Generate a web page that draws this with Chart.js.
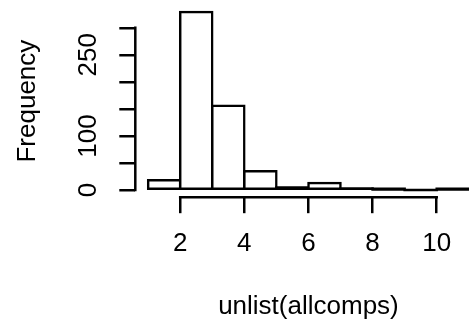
<!DOCTYPE html>
<html><head><meta charset="utf-8">
<script src="https://cdn.jsdelivr.net/npm/chart.js@4.4.1/dist/chart.umd.min.js"></script>
<style>html,body{margin:0;padding:0;background:#fff;overflow:hidden;width:469px;height:325px}canvas{display:block}</style>
</head><body>
<canvas id="c" width="482" height="325"></canvas>
<script>
// ---- data ----
const binEdges = [1, 2, 3, 4, 5, 6, 7, 8, 9, 10, 11];
const counts = [18, 329, 156, 35, 5, 13, 3, 1, 0, 1];
const xTickValues = [2, 4, 6, 8, 10];
const xTickLabels = ['2', '4', '6', '8', '10'];
const yTickValues = [0, 50, 100, 150, 200, 250, 300];
const yTickLabels = ['0', '', '100', '', '', '250', ''];
const xTitle = 'unlist(allcomps)';
const yTitle = 'Frequency';

// ---- style ----
const LW = 2.5;
const FONT = "'Liberation Sans', Arial, Helvetica, sans-serif";
const FS = 26;
const CW = 482, H = 325; // canvas runs past the 469px window, as the R plot region does
const PLOT_LEFT = 135.3, PLOT_RIGHT = 481.6, PLOT_TOP = 5.0, PLOT_BOTTOM = 197.2;

const points = counts.map((c, i) => ({ x: (binEdges[i] + binEdges[i + 1]) / 2, y: c }));
const xRange = binEdges[binEdges.length - 1] - binEdges[0];
const yMaxData = Math.max(...counts);

function isThin(ctx) {
  if (!ctx || ctx.type !== 'data' || !ctx.parsed) return false;
  const ys = ctx.chart.scales.y;
  if (!ys) return false;
  return Math.abs(ys.getPixelForValue(0) - ys.getPixelForValue(ctx.parsed.y)) <= 2 * LW;
}

const rAxes = {
  id: 'rAxes',
  afterDraw(chart) {
    const { ctx, chartArea, scales: { x, y } } = chart;
    ctx.save();
    ctx.strokeStyle = '#000';
    ctx.lineWidth = LW;
    ctx.lineCap = 'square';
    ctx.beginPath();
    ctx.moveTo(chartArea.left, y.getPixelForValue(yTickValues[0]));
    ctx.lineTo(chartArea.left, y.getPixelForValue(yTickValues[yTickValues.length - 1]));
    ctx.moveTo(x.getPixelForValue(xTickValues[0]), chartArea.bottom);
    ctx.lineTo(x.getPixelForValue(xTickValues[xTickValues.length - 1]), chartArea.bottom);
    ctx.stroke();
    ctx.restore();
  }
};

new Chart(document.getElementById('c'), {
  type: 'bar',
  data: {
    datasets: [{
      data: points,
      borderColor: '#000',
      borderWidth: c => isThin(c) ? 0 : LW,
      backgroundColor: c => isThin(c) ? '#000' : '#fff',
      borderSkipped: false,
      inflateAmount: LW / 2,
      barPercentage: 1,
      categoryPercentage: 1
    }]
  },
  options: {
    responsive: false,
    animation: false,
    devicePixelRatio: 1,
    events: [],
    layout: { padding: { left: 0, top: PLOT_TOP, right: CW - PLOT_RIGHT, bottom: 0 } },
    plugins: { legend: { display: false }, tooltip: { enabled: false } },
    scales: {
      x: {
        type: 'linear',
        offset: false,
        min: binEdges[0] - 0.04 * xRange,
        max: binEdges[binEdges.length - 1] + 0.04 * xRange,
        afterBuildTicks: s => { s.ticks = xTickValues.map(v => ({ value: v })); },
        afterFit: s => { s.height = H - PLOT_BOTTOM; s.paddingLeft = 0; s.paddingRight = 0; s.paddingTop = 0; s.paddingBottom = 0; },
        grid: { offset: false, drawOnChartArea: false, drawTicks: true, tickLength: 16, tickWidth: LW, tickColor: '#000', color: '#000', lineWidth: LW },
        border: { display: false },
        ticks: {
          autoSkip: false, maxRotation: 0, minRotation: 0, padding: 15.5, color: '#000',
          font: { family: FONT, size: FS },
          callback: (v, i) => xTickLabels[i]
        },
        title: { display: true, text: xTitle, color: '#000', font: { family: FONT, size: FS }, padding: { top: 0, bottom: 3 } }
      },
      y: {
        type: 'linear',
        min: -0.04 * yMaxData,
        max: yMaxData * 1.04,
        afterBuildTicks: s => { s.ticks = yTickValues.map(v => ({ value: v })); },
        afterFit: s => { s.width = PLOT_LEFT; s.paddingLeft = 0; s.paddingRight = 0; s.paddingTop = 0; s.paddingBottom = 0; },
        grid: { drawOnChartArea: false, drawTicks: true, tickLength: 16, tickWidth: LW, tickColor: '#000', color: '#000', lineWidth: LW },
        border: { display: false },
        ticks: {
          autoSkip: false, minRotation: 90, maxRotation: 90, crossAlign: 'center', padding: 8.3, color: '#000',
          font: { family: FONT, size: FS },
          callback: (v, i) => yTickLabels[i]
        },
        title: { display: true, text: yTitle, color: '#000', font: { family: FONT, size: FS }, padding: { top: 12.5, bottom: 0 } }
      }
    }
  },
  plugins: [rAxes]
});
</script>
</body></html>
